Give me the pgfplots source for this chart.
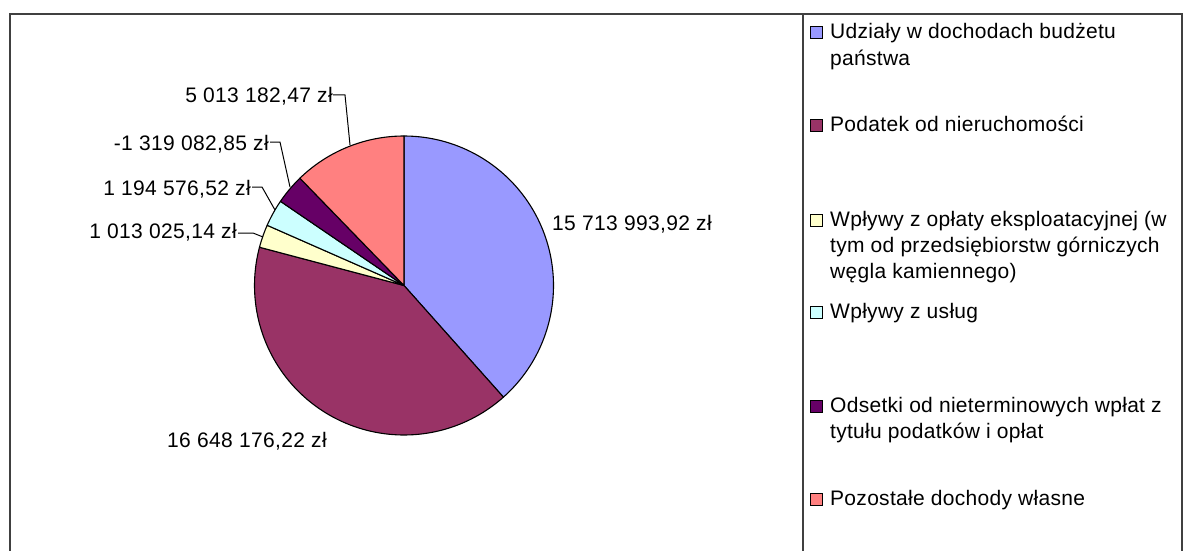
\documentclass[border=0pt]{standalone}
\usepackage{pgfplots}
\pgfplotsset{compat=1.18}
\usepackage{fontspec}
\setmainfont{Liberation Sans}
\newfontfamily\lblfont{Liberation Sans}[LetterSpace=1.7]
\newfontfamily\legfont{Liberation Sans}[LetterSpace=1.4]
\definecolor{c1}{HTML}{9999FF}
\definecolor{c2}{HTML}{993366}
\definecolor{c3}{HTML}{FFFFCC}
\definecolor{c4}{HTML}{CCFFFF}
\definecolor{c5}{HTML}{660066}
\definecolor{c6}{HTML}{FF8080}
\definecolor{frame}{HTML}{404040}
% data values (zł)
\def\vA{15713993.92}
\def\vB{16648176.22}
\def\vC{1013025.14}
\def\vD{1194576.52}
\def\vE{-1319082.85}
\def\vF{5013182.47}
\edef\T{\fpeval{abs(\vA)+abs(\vB)+abs(\vC)+abs(\vD)+abs(\vE)+abs(\vF)}}
\def\aO{90}
\edef\aA{\fpeval{\aO-360*abs(\vA)/\T}}
\edef\aB{\fpeval{\aA-360*abs(\vB)/\T}}
\edef\aC{\fpeval{\aB-360*abs(\vC)/\T}}
\edef\aD{\fpeval{\aC-360*abs(\vD)/\T}}
\edef\aE{\fpeval{\aD-360*abs(\vE)/\T}}
\edef\aF{\fpeval{\aE-360*abs(\vF)/\T}}
\def\cx{404}\def\cy{264.5}\def\R{149.5}
\tikzset{lbl/.style={inner sep=0,font=\lblfont\fontsize{21}{27}\selectfont},
  leg/.style={inner sep=0,font=\legfont\fontsize{21}{27}\selectfont}}
\begin{document}
\begin{tikzpicture}[x=1pt,y=1pt]
\useasboundingbox (0,0) rectangle (1183,550);
\begin{axis}[at={(0,0)},anchor=south west,width=1183pt,height=550pt,scale only axis,
  xmin=0,xmax=1183,ymin=0,ymax=550,hide axis,clip=false,
  every axis plot/.append style={draw=black,line width=1.1pt,line join=round}]
\addplot[fill=c1,domain=\aA:\aO,samples=90,variable=\t] ({\cx+\R*cos(\t)},{\cy+\R*sin(\t)}) -- (axis cs:\cx,\cy) -- cycle;
\addplot[fill=c2,domain=\aB:\aA,samples=90,variable=\t] ({\cx+\R*cos(\t)},{\cy+\R*sin(\t)}) -- (axis cs:\cx,\cy) -- cycle;
\addplot[fill=c3,domain=\aC:\aB,samples=10,variable=\t] ({\cx+\R*cos(\t)},{\cy+\R*sin(\t)}) -- (axis cs:\cx,\cy) -- cycle;
\addplot[fill=c4,domain=\aD:\aC,samples=10,variable=\t] ({\cx+\R*cos(\t)},{\cy+\R*sin(\t)}) -- (axis cs:\cx,\cy) -- cycle;
\addplot[fill=c5,domain=\aE:\aD,samples=10,variable=\t] ({\cx+\R*cos(\t)},{\cy+\R*sin(\t)}) -- (axis cs:\cx,\cy) -- cycle;
\addplot[fill=c6,domain=\aF:\aE,samples=40,variable=\t] ({\cx+\R*cos(\t)},{\cy+\R*sin(\t)}) -- (axis cs:\cx,\cy) -- cycle;
% frame
\draw[frame,line width=2pt] (axis cs:10,-5) -- (axis cs:10,536) -- (axis cs:1182,536) -- (axis cs:1182,-5);
\draw[frame,line width=2pt] (axis cs:803,-5) -- (axis cs:803,536);
% data labels
\node[lbl,anchor=base west] at (axis cs:552,320) {15 713 993,92 zł};
\node[lbl,anchor=base west] at (axis cs:167,103) {16 648 176,22 zł};
\node[lbl,anchor=base east] at (axis cs:237,312) {1 013 025,14 zł};
\node[lbl,anchor=base east] at (axis cs:251,355) {1 194 576,52 zł};
\node[lbl,anchor=base east] at (axis cs:269,400) {-1 319 082,85 zł};
\node[lbl,anchor=base east] at (axis cs:333,447) {5 013 182,47 zł};
\draw[black,line width=1pt] (axis cs:333,455) -- (axis cs:345,455) -- (axis cs:350,405);
\draw[black,line width=1pt] (axis cs:270,408) -- (axis cs:280,408) -- (axis cs:290,363);
\draw[black,line width=1pt] (axis cs:252,363) -- (axis cs:262,363) -- (axis cs:275,340);
\draw[black,line width=1pt] (axis cs:238,317) -- (axis cs:253,317) -- (axis cs:263,313);
% legend
\filldraw[fill=c1,draw=black,line width=1pt] (axis cs:810,511) rectangle (axis cs:822,523);
\node[leg,anchor=base west] at (axis cs:830,511) {Udziały w dochodach budżetu};
\node[leg,anchor=base west] at (axis cs:830,484) {państwa};
\filldraw[fill=c2,draw=black,line width=1pt] (axis cs:810,419) rectangle (axis cs:822,431);
\node[leg,anchor=base west] at (axis cs:830,419) {Podatek od nieruchomości};
\filldraw[fill=c3,draw=black,line width=1pt] (axis cs:810,324) rectangle (axis cs:822,336);
\node[leg,anchor=base west] at (axis cs:830,324) {Wpływy z opłaty eksploatacyjnej (w};
\node[leg,anchor=base west] at (axis cs:830,298) {tym od przedsiębiorstw górniczych};
\node[leg,anchor=base west] at (axis cs:830,272) {węgla kamiennego)};
\filldraw[fill=c4,draw=black,line width=1pt] (axis cs:810,232) rectangle (axis cs:822,244);
\node[leg,anchor=base west] at (axis cs:830,232) {Wpływy z usług};
\filldraw[fill=c5,draw=black,line width=1pt] (axis cs:810,138) rectangle (axis cs:822,150);
\node[leg,anchor=base west] at (axis cs:830,138) {Odsetki od nieterminowych wpłat z};
\node[leg,anchor=base west] at (axis cs:830,112) {tytułu podatków i opłat};
\filldraw[fill=c6,draw=black,line width=1pt] (axis cs:810,45) rectangle (axis cs:822,57);
\node[leg,anchor=base west] at (axis cs:830,45) {Pozostałe dochody własne};
\end{axis}
\end{tikzpicture}
\end{document}
